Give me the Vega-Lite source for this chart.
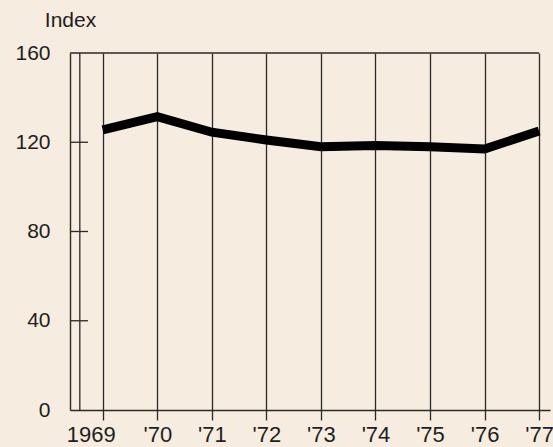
{
  "$schema": "https://vega.github.io/schema/vega-lite/v6.json",
  "width": 480,
  "height": 357,
  "autosize": "none",
  "padding": {"left": 70, "top": 53, "right": 3, "bottom": 37},
  "background": "#f6ecdf",
  "config": {
    "view": {"stroke": null},
    "font": "Liberation Sans",
    "axis": {
      "labelFont": "Liberation Sans",
      "titleFont": "Liberation Sans",
      "labelFontSize": 21,
      "titleFontSize": 21,
      "labelColor": "#1e1e1e",
      "titleColor": "#1e1e1e",
      "titleFontWeight": "normal",
      "domainColor": "#2a2a2a",
      "tickColor": "#2a2a2a",
      "gridColor": "#2a2a2a",
      "gridOpacity": 1,
      "domainWidth": 1.4,
      "tickWidth": 1.3,
      "gridWidth": 1.3
    }
  },
  "layer": [
    {
      "data": {"values": [{"tick": 40}, {"tick": 80}, {"tick": 120}]},
      "mark": {"type": "rule", "color": "#2a2a2a", "strokeWidth": 1.3},
      "encoding": {
        "x": {"datum": 1968.4, "type": "quantitative"},
        "x2": {"datum": 1968.73},
        "y": {"field": "tick", "type": "quantitative"}
      }
    },
    {
      "data": {"values": [{"top": 160}]},
      "mark": {"type": "rule", "color": "#2a2a2a", "strokeWidth": 1.4},
      "encoding": {
        "x": {"datum": 1968.4, "type": "quantitative"},
        "x2": {"datum": 1977},
        "y": {"field": "top", "type": "quantitative"}
      }
    },
    {
      "data": {"values": [{"x": 1968.58}]},
      "mark": {"type": "rule", "color": "#2a2a2a", "strokeWidth": 1.3},
      "encoding": {
        "x": {"field": "x", "type": "quantitative"},
        "y": {"datum": 0, "type": "quantitative"},
        "y2": {"datum": 160}
      }
    },
    {
      "data": {
        "values": [
          {"year": 1969, "index": 125.5},
          {"year": 1970, "index": 131.5},
          {"year": 1971, "index": 124.5},
          {"year": 1972, "index": 121},
          {"year": 1973, "index": 118},
          {"year": 1974, "index": 118.5},
          {"year": 1975, "index": 118},
          {"year": 1976, "index": 117},
          {"year": 1977, "index": 125}
        ]
      },
      "mark": {"type": "line", "color": "#000000", "strokeWidth": 9, "strokeJoin": "miter", "strokeCap": "butt"},
      "encoding": {
        "x": {
          "field": "year",
          "type": "quantitative",
          "scale": {"domain": [1968.4, 1977.2], "nice": false, "zero": false},
          "axis": {
            "title": null,
            "values": [1969, 1970, 1971, 1972, 1973, 1974, 1975, 1976, 1977],
            "grid": true,
            "tickSize": 10,
            "labelPadding": 4,
            "labelFontSize": 22,
            "labelExpr": "datum.value == 1969 ? '1969' : \"'\" + substring(toString(datum.value), 2)",
            "labelOffset": {"condition": {"test": "datum.value == 1969", "value": -12}, "value": 0},
            "labelFlush": false,
            "labelOverlap": false
          }
        },
        "y": {
          "field": "index",
          "type": "quantitative",
          "scale": {"domain": [0, 160], "nice": false},
          "axis": {
            "title": "Index",
            "titleAngle": 0,
            "titleAlign": "center",
            "titleBaseline": "alphabetic",
            "titleX": 0,
            "titleY": -27,
            "values": [0, 40, 80, 120, 160],
            "grid": false,
            "ticks": false,
            "labelPadding": 20
          }
        }
      }
    }
  ]
}
